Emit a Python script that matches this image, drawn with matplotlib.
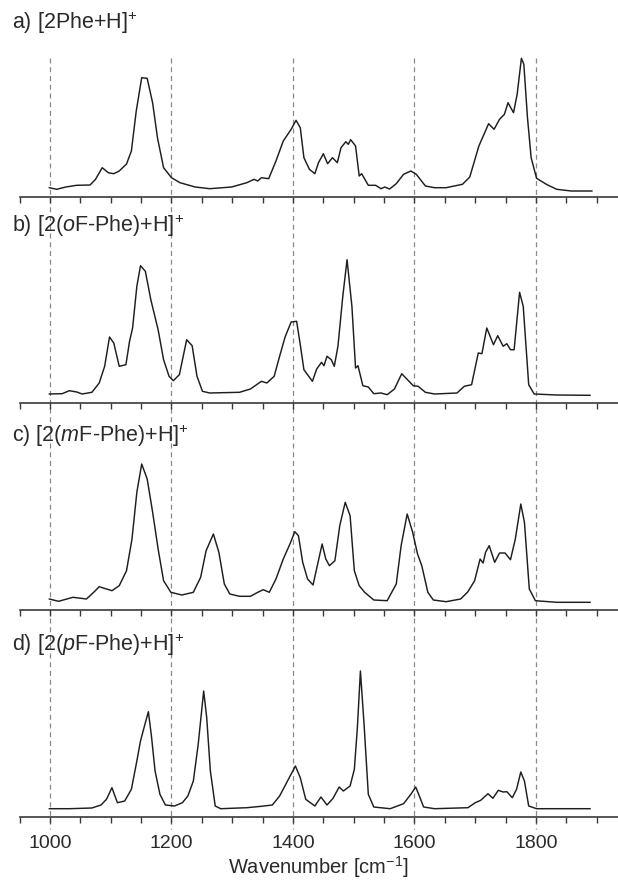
import numpy as np
import matplotlib
matplotlib.use("Agg")
import matplotlib.pyplot as plt
from matplotlib.lines import Line2D
from matplotlib.transforms import blended_transform_factory

plt.rcParams['font.family'] = ['Liberation Sans', 'DejaVu Sans']
plt.rcParams['mathtext.fontset'] = 'custom'
plt.rcParams['mathtext.rm'] = 'Liberation Sans'
plt.rcParams['mathtext.it'] = 'Liberation Sans:italic'
plt.rcParams['mathtext.default'] = 'rm'

# ---------------- data (wavenumber, relative intensity) ----------------
wn_a = [999, 1011, 1026, 1044, 1066, 1075, 1086, 1096, 1105, 1114, 1126, 1134, 1142, 1151, 1160,
        1169, 1177, 1187, 1200, 1214, 1239, 1263, 1299, 1324, 1336, 1342, 1348, 1360, 1372, 1384,
        1397, 1405, 1412, 1418, 1427, 1436, 1442, 1450, 1457, 1465, 1473, 1479, 1487, 1491, 1495,
        1503, 1509, 1513, 1524, 1536, 1545, 1551, 1559, 1570, 1582, 1594, 1603, 1618, 1633, 1652,
        1679, 1691, 1706, 1722, 1731, 1740, 1748, 1754, 1763, 1769, 1776, 1780, 1786, 1792, 1801,
        1817, 1834, 1858, 1892]
int_a = [9.3, 7.7, 10, 11.7, 12, 17.7, 29.3, 24.3, 23.3, 26, 33, 46, 86, 119.3, 118.7,
         94, 59, 29.3, 19.3, 14.3, 10, 8.3, 10, 14.3, 17.7, 16, 19.3, 18.3, 36, 56,
         67.7, 76.7, 69.3, 39.3, 27.7, 23.3, 34.3, 43.3, 33.3, 39.3, 34.3, 49.3, 55.3, 52.7, 57.3,
         51, 21, 23.3, 11.7, 11.7, 8.3, 10, 8, 13.3, 22.7, 26, 22.7, 11, 9.3, 9.3,
         12.7, 20, 51, 73.3, 67.7, 77.7, 82.7, 94.3, 84.3, 102.7, 138.7, 132.7, 79.3, 39.3, 18.7,
         12.7, 7.7, 6, 6]

wn_b = [999, 1020, 1032, 1044, 1053, 1069, 1081, 1090, 1098, 1105, 1114, 1125, 1131, 1136, 1143,
        1149, 1157, 1166, 1178, 1187, 1196, 1203, 1213, 1225, 1234, 1242, 1251, 1263, 1312, 1330,
        1348, 1357, 1369, 1378, 1387, 1397, 1406, 1412, 1418, 1432, 1439, 1447, 1451, 1456, 1463,
        1468, 1474, 1482, 1489, 1497, 1503, 1507, 1515, 1524, 1533, 1545, 1555, 1567, 1579, 1591,
        1598, 1606, 1618, 1633, 1670, 1682, 1694, 1705, 1711, 1719, 1730, 1737, 1746, 1752, 1758,
        1764, 1773, 1779, 1788, 1797, 1834, 1889]
int_b = [9, 9.3, 12.3, 11, 9, 10.7, 20, 36.7, 66, 60, 36.7, 38.3, 61.7, 75, 116.7,
         137.3, 131.7, 103.3, 73.3, 43.3, 26.7, 22.3, 28.3, 63.3, 57.3, 26.7, 11.7, 10, 10.7, 14,
         21.7, 20, 26.7, 46.7, 66, 81, 81.7, 58.3, 33.3, 21.7, 34, 40.7, 37.3, 46.7, 43.3,
         36.7, 56.7, 106.7, 143.3, 96.7, 35, 37.3, 17.3, 16, 9.3, 10, 8.3, 14, 29.3, 21.7,
         17.3, 16.7, 10.7, 9, 10, 16.7, 18.3, 50, 49.3, 75, 58.3, 67.3, 56.7, 59.3, 53.3,
         53.3, 110.7, 96.7, 18.3, 9, 8, 7.7]

wn_c = [999, 1014, 1038, 1060, 1072, 1081, 1093, 1102, 1114, 1126, 1135, 1143, 1151, 1160, 1169,
        1178, 1187, 1199, 1217, 1236, 1248, 1257, 1269, 1278, 1287, 1296, 1312, 1330, 1342, 1351,
        1361, 1372, 1384, 1395, 1403, 1409, 1416, 1424, 1433, 1440, 1448, 1454, 1460, 1469, 1477,
        1486, 1494, 1501, 1509, 1518, 1533, 1555, 1570, 1578, 1588, 1597, 1605, 1612, 1622, 1631,
        1652, 1676, 1688, 1699, 1708, 1713, 1717, 1723, 1732, 1740, 1749, 1758, 1766, 1775, 1781,
        1789, 1799, 1834, 1889]
int_c = [11, 8.7, 12.7, 11, 17.7, 23.3, 21, 19.3, 24.3, 39.3, 71, 117.7, 146, 131, 97.7,
         61, 29.3, 17.7, 15, 17.7, 32.7, 59.3, 76, 57.7, 26, 16, 13.7, 13.7, 17.7, 20.3,
         17.7, 31, 51, 66, 78.3, 74.3, 47.7, 31, 25, 44.3, 66, 51, 44.3, 49.3, 84.3,
         107.7, 94.3, 39.3, 24.3, 17.7, 10, 9.3, 26, 64.3, 96, 77.7, 56, 44.3, 17.7, 10,
         8.3, 11, 18.3, 29.3, 51, 47, 57.7, 64.3, 47.7, 57, 57, 50.3, 71, 106, 87.7,
         21, 9.3, 7.7, 7.7]

wn_d = [999, 1032, 1069, 1084, 1093, 1102, 1111, 1123, 1134, 1143, 1149, 1157, 1162, 1167, 1173,
        1181, 1190, 1205, 1218, 1227, 1236, 1244, 1253, 1258, 1264, 1272, 1281, 1324, 1348, 1366,
        1378, 1391, 1404, 1412, 1421, 1436, 1446, 1456, 1466, 1476, 1483, 1494, 1501, 1506, 1511,
        1517, 1524, 1533, 1560, 1582, 1594, 1602, 1608, 1615, 1633, 1688, 1700, 1709, 1721, 1729,
        1738, 1746, 1752, 1761, 1768, 1775, 1781, 1788, 1801, 1889]
int_d = [8.3, 8.3, 9, 12, 17.7, 29.3, 14.3, 16, 27.7, 56, 76, 94.3, 105.3, 81, 46,
         22.7, 12, 11, 14.3, 21, 36, 72.7, 126, 99.3, 46, 11, 8.3, 9.3, 10.7, 12,
         21, 36, 51, 39.3, 17.7, 11, 20, 12, 18.7, 30, 26, 31, 47.7, 89.3, 146,
         92.7, 22.7, 10, 8.3, 13.3, 22.7, 30, 21, 10, 8.3, 9.3, 14.3, 16.7, 23.3, 18.7,
         26.7, 25, 25.3, 19.3, 27.7, 45, 36, 11, 8.3, 8.3]

panel_labels = [r"a) [2Phe+H]$^{+}$",
                r"b) [2($\mathit{o}$F-Phe)+H]$^{+}$",
                r"c) [2($\mathit{m}$F-Phe)+H]$^{+}$",
                r"d) [2($\mathit{p}$F-Phe)+H]$^{+}$"]
dashed_wn = [1000, 1200, 1400, 1600, 1800]
tick_labels = ["1000", "1200", "1400", "1600", "1800"]
xlabel = r"Wavenumber [cm$^{-1}$]"

# ---------------- layout ----------------
W, H = 618, 882
fig = plt.figure(figsize=(W / 100, H / 100), dpi=100)
fig.patch.set_facecolor('white')

spine_px = [197, 403, 610, 817]
label_px = [23, 226, 436, 645]
panel_h = 150
left = 19.6 / W

series = [(wn_a, int_a), (wn_b, int_b), (wn_c, int_c), (wn_d, int_d)]
axes = []
axis_col = '#3a3a3a'
for i, (wn, inten) in enumerate(series):
    ax = fig.add_axes([left, 1 - spine_px[i] / H, 1 - left, panel_h / H])
    ax.plot(wn, inten, color='#1e1e1e', lw=1.05, solid_joinstyle='round')
    ax.set_xlim(950, 1935)
    ax.set_ylim(0, panel_h)
    ax.patch.set_alpha(0)
    for s in ['left', 'right', 'top']:
        ax.spines[s].set_visible(False)
    ax.spines['bottom'].set_color(axis_col)
    ax.spines['bottom'].set_linewidth(1.2)
    ax.set_yticks([])
    ax.set_xticks(dashed_wn)
    ax.set_xticks(np.arange(950, 1901, 50), minor=True)
    ax.tick_params(axis='x', which='both', direction='out', length=4.2, width=1.0,
                   color=axis_col)
    if i < 3:
        ax.set_xticklabels([])
    else:
        ax.set_xticklabels(tick_labels, fontsize=14, color='#2a2a2a')
        ax.tick_params(axis='x', which='major', pad=9)
        ax.set_xlabel(xlabel, fontsize=14.5, color='#2a2a2a', labelpad=1)
    axes.append(ax)
    fig.text(12 / W, 1 - label_px[i] / H, panel_labels[i], fontsize=15.5,
             color='#2a2a2a', va='center', ha='left')

# dashed reference lines spanning all panels
trans = blended_transform_factory(axes[-1].transData, fig.transFigure)
for x in dashed_wn:
    fig.add_artist(Line2D([x, x], [1 - 58 / H, 1 - 829 / H], transform=trans,
                          color='#8a8a8a', lw=0.9, linestyle=(0, (4, 3)), zorder=0))

fig.savefig('out.png', dpi=100, facecolor='white')
